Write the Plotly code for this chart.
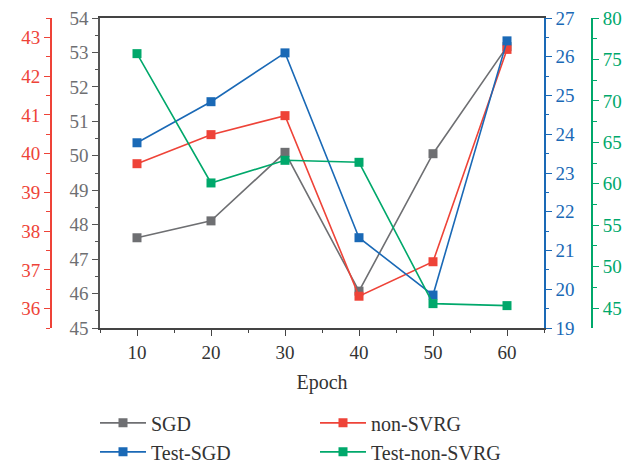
import plotly.graph_objects as go

epochs = [10, 20, 30, 40, 50, 60]
sgd = [47.62, 48.11, 50.10, 46.07, 50.06, 53.17]
non_svrg = [39.74, 40.49, 40.98, 36.32, 37.21, 42.69]
test_sgd = [23.78, 24.84, 26.10, 21.33, 19.85, 26.41]
test_non_svrg = [75.70, 60.10, 62.83, 62.59, 45.54, 45.30]

GRAY = "#6e6f72"
RED = "#ee4338"
BLUE = "#1a69b6"
GREEN = "#00a86b"
FONT = "Liberation Serif"

W, H = 639, 466
T, B = 18, 138
X0, X1 = 100, 544

fig = go.Figure()

def add(name, y, color, axis):
    fig.add_trace(go.Scatter(
        x=epochs, y=y, name=name, yaxis=axis, mode="lines+markers",
        line=dict(color=color, width=1.6),
        marker=dict(symbol="square", size=9, color=color, line=dict(width=0)),
    ))

add("SGD", sgd, GRAY, "y")
add("non-SVRG", non_svrg, RED, "y2")
add("Test-SGD", test_sgd, BLUE, "y3")
add("Test-non-SVRG", test_non_svrg, GREEN, "y4")

def yax(color, rng, dtick, minor, side, labelcolor, **kw):
    d = dict(
        range=rng, dtick=dtick, tick0=0, side=side,
        showline=True, linecolor=color, linewidth=1.5,
        ticks="outside", ticklen=6, tickwidth=1.3, tickcolor=color,
        minor=dict(dtick=minor, ticks="outside", ticklen=3.5, tickwidth=1.2, tickcolor=color),
        tickfont=dict(family=FONT, size=19, color=labelcolor),
        showgrid=False, zeroline=False, automargin=False,
    )
    d.update(kw)
    return d

fig.update_layout(
    width=W, height=H,
    margin=dict(l=0, r=0, t=T, b=B, autoexpand=False),
    paper_bgcolor="white", plot_bgcolor="white",
    font=dict(family=FONT, size=19, color="#333333"),
    showlegend=True,
    xaxis=dict(
        domain=[X0 / W, X1 / W],
        range=[5, 65], dtick=10, tick0=0, showgrid=False, zeroline=False,
        showline=True, linecolor="#444444", linewidth=1.5, mirror=True,
        ticks="outside", ticklen=6, tickwidth=1.3, tickcolor="#444444",
        minor=dict(dtick=5, ticks="outside", ticklen=3.5, tickwidth=1.2, tickcolor="#444444"),
        tickfont=dict(family=FONT, size=19, color="#333333"),
        title=dict(text="Epoch", font=dict(family=FONT, size=20, color="#333333"), standoff=13),
        automargin=False,
    ),
    yaxis=yax("#555555", [45, 54], 1, 0.5, "left", "#6e6f72", anchor="x"),
    yaxis2=yax(RED, [35.5, 43.5], 1, 0.5, "left", RED,
               overlaying="y", anchor="free", position=50.7 / W),
    yaxis3=yax(BLUE, [19, 27], 1, 0.5, "right", BLUE,
               overlaying="y", anchor="x"),
    yaxis4=yax(GREEN, [42.6, 80], 5, 2.5, "right", GREEN,
               overlaying="y", anchor="free", position=592.3 / W),
    legend=dict(
        orientation="h", x=95 / W, xanchor="left", y=-0.243, yanchor="top",
        entrywidth=159, entrywidthmode="pixels",
        font=dict(family=FONT, size=20, color="#333333"),
        itemwidth=46, tracegroupgap=0,
    ),
)

fig.write_html("out.html")
